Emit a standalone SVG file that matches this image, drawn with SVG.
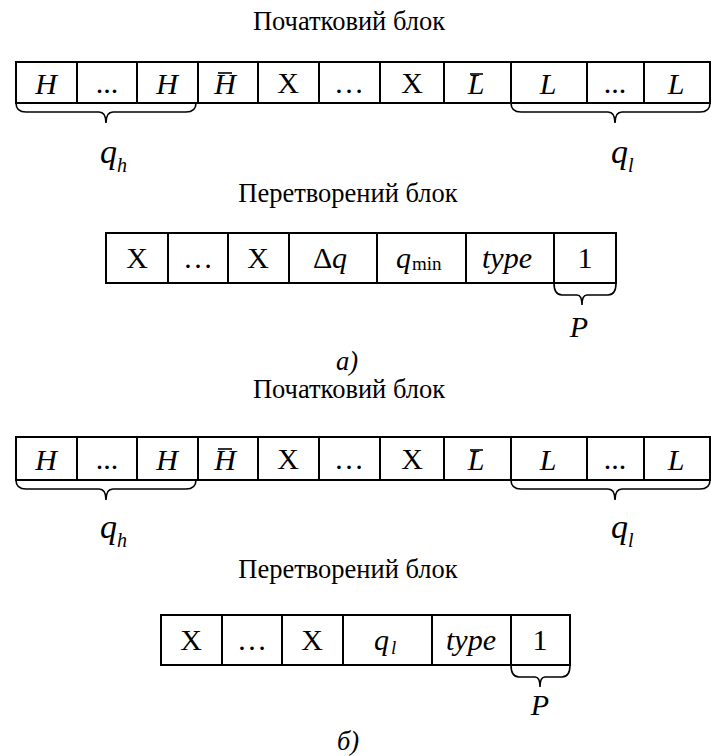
<svg xmlns="http://www.w3.org/2000/svg" width="712" height="756" viewBox="0 0 712 756">
<style>
.t{font-family:"Liberation Serif","Times New Roman",serif;fill:#000}
.h{font-size:26.5px;text-anchor:middle}
.c{font-size:30px;text-anchor:middle}
.n{font-size:30px}
.i{font-style:italic}
.q{font-size:34px;font-style:italic}
.s{font-size:20px;font-style:italic}
.m{font-size:19px}
.box{fill:#fff;stroke:#000;stroke-width:2}
.ln{stroke:#000;stroke-width:2;fill:none}
.br{stroke:#000;stroke-width:1.6;fill:none}
.bar{stroke:#000;stroke-width:1.6}
</style>
<rect width="712" height="756" fill="#fff"/>

<g id="section-a">
<text class="t h" x="349" y="30">Початковий блок</text>
<g id="initial-block-a">
<rect class="box" x="16" y="62" width="694" height="41"/>
<path class="ln" d="M77,62V103M137,62V103M198,62V103M258,62V103M319,62V103M380,62V103M444,62V103M511,62V103M587,62V103M644,62V103"/>
<text class="t c i" x="46" y="94">H</text>
<text class="t c" x="107" y="93">...</text>
<text class="t c i" x="167" y="94">H</text>
<text class="t c i" x="225" y="94">H</text>
<line class="bar" x1="218" y1="73" x2="232" y2="73"/>
<text class="t c" x="288" y="93">X</text>
<text class="t c" x="349" y="93">…</text>
<text class="t c" x="412" y="93">X</text>
<text class="t c i" x="476" y="94">L</text>
<line class="bar" x1="470" y1="74" x2="483" y2="74"/>
<text class="t c i" x="548" y="94">L</text>
<text class="t c" x="615" y="93">...</text>
<text class="t c i" x="676" y="94">L</text>
</g>
<g id="brace-qh-a">
<path class="br" d="M16,103Q16,112 26,112L99,112Q106,112 106,123Q106,112 113,112L186,112Q196,112 196,103"/>
<text class="t q" x="100" y="163">q</text>
<text class="t s" x="117" y="172">h</text>
</g>
<g id="brace-ql-a">
<path class="br" d="M511,103Q511,112 521,112L608,112Q615,112 615,123Q615,112 622,112L700,112Q710,112 710,103"/>
<text class="t q" x="611" y="163">q</text>
<text class="t s" x="628" y="172">l</text>
</g>
<text class="t h" x="348" y="202">Перетворений блок</text>
<g id="converted-block-a">
<rect class="box" x="106" y="233" width="510" height="50"/>
<path class="ln" d="M168,233V283M228,233V283M289,233V283M377,233V283M466,233V283M554,233V283"/>
<text class="t c" x="137" y="268">X</text>
<text class="t c" x="198" y="268">…</text>
<text class="t c" x="258" y="268">X</text>
<text class="t n" x="313" y="268">Δ</text>
<text class="t n i" x="332" y="268">q</text>
<text class="t n i" x="396" y="268">q</text>
<text class="t m" x="412" y="270">min</text>
<text class="t c i" x="507" y="268">type</text>
<text class="t c" x="585" y="268">1</text>
</g>
<g id="brace-p-a">
<path class="br" d="M554,283Q554,295 562,295L577,295Q582,295 582,305Q582,295 587,295L608,295Q616,295 616,283"/>
<text class="t c i" x="579" y="337">P</text>
</g>
<text class="t h i" x="347" y="370">а)</text>
</g>

<g id="section-b">
<text class="t h" x="349" y="398">Початковий блок</text>
<g id="initial-block-b">
<rect class="box" x="16" y="437" width="694" height="43"/>
<path class="ln" d="M77,437V480M137,437V480M198,437V480M258,437V480M319,437V480M380,437V480M444,437V480M511,437V480M587,437V480M644,437V480"/>
<text class="t c i" x="46" y="470">H</text>
<text class="t c" x="107" y="469">...</text>
<text class="t c i" x="167" y="470">H</text>
<text class="t c i" x="225" y="470">H</text>
<line class="bar" x1="218" y1="449" x2="232" y2="449"/>
<text class="t c" x="288" y="469">X</text>
<text class="t c" x="349" y="469">…</text>
<text class="t c" x="412" y="469">X</text>
<text class="t c i" x="476" y="470">L</text>
<line class="bar" x1="470" y1="450" x2="483" y2="450"/>
<text class="t c i" x="548" y="470">L</text>
<text class="t c" x="615" y="469">...</text>
<text class="t c i" x="676" y="470">L</text>
</g>
<g id="brace-qh-b">
<path class="br" d="M16,480Q16,489 26,489L99,489Q106,489 106,500Q106,489 113,489L186,489Q196,489 196,480"/>
<text class="t q" x="100" y="538">q</text>
<text class="t s" x="117" y="547">h</text>
</g>
<g id="brace-ql-b">
<path class="br" d="M511,480Q511,489 521,489L608,489Q615,489 615,500Q615,489 622,489L700,489Q710,489 710,480"/>
<text class="t q" x="611" y="538">q</text>
<text class="t s" x="628" y="547">l</text>
</g>
<text class="t h" x="348" y="578">Перетворений блок</text>
<g id="converted-block-b">
<rect class="box" x="161" y="615" width="409" height="50"/>
<path class="ln" d="M222,615V665M282,615V665M343,615V665M432,615V665M511,615V665"/>
<text class="t c" x="191" y="650">X</text>
<text class="t c" x="252" y="650">…</text>
<text class="t c" x="312" y="650">X</text>
<text class="t n i" x="374" y="650">q</text>
<text class="t m i" x="391" y="654">l</text>
<text class="t c i" x="471" y="650">type</text>
<text class="t c" x="540" y="650">1</text>
</g>
<g id="brace-p-b">
<path class="br" d="M511,665Q511,677 519,677L535,677Q540,677 540,687Q540,677 545,677L562,677Q570,677 570,665"/>
<text class="t c i" x="540" y="715">P</text>
</g>
<text class="t h i" x="348" y="750">б)</text>
</g>
</svg>
